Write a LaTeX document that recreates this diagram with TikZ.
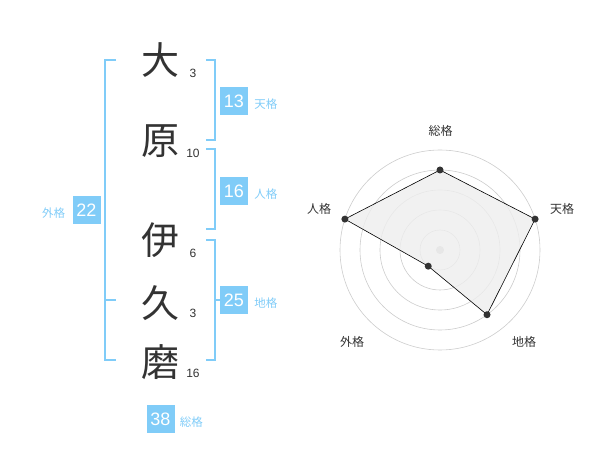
\documentclass[tikz,border=0pt]{standalone}
\usepackage{fontspec}
\usetikzlibrary{calc}
\setmainfont{Liberation Sans}
\newfontfamily\jp{Noto Sans CJK JP}
\definecolor{kblue}{HTML}{80CCF8}
\definecolor{kdark}{HTML}{333333}
\definecolor{kring}{HTML}{CCCCCC}
\definecolor{kfill}{HTML}{EEEEEE}
\tikzset{
  kanji/.style={font=\jp\fontsize{38}{38}\selectfont, text=kdark, inner sep=0pt},
  strokes/.style={font=\fontsize{12}{12}\selectfont, text=kdark, inner sep=0pt},
  bracket/.style={draw=kblue, line width=2pt},
  kakubox/.style={fill=kblue, text=white, minimum size=28pt, inner sep=0pt, font=\fontsize{18}{18}\selectfont},
  kakulabel/.style={text=kblue, font=\jp\fontsize{11.5}{12}\selectfont, inner sep=0pt, anchor=west},
  ring/.style={draw=kring, line width=0.6pt},
  axlabel/.style={text=kdark, font=\jp\fontsize{12}{12}\selectfont, inner sep=0pt},
  dot/.style={circle, fill=kdark, minimum size=7pt, inner sep=0pt},
}
\begin{document}
\begin{tikzpicture}[x=1pt,y=-1pt]
\useasboundingbox (0,0) rectangle (600,470);
% name characters
\node[kanji] (c1) at (160,60) {大};
\node[kanji] (c2) at (160,141) {原};
\node[kanji] (c3) at (160,240) {伊};
\node[kanji] (c4) at (160,303) {久};
\node[kanji] (c5) at (160,362) {磨};
\node[strokes] (s1) at (193,73) {3};
\node[strokes] (s2) at (193,153) {10};
\node[strokes] (s3) at (193,253) {6};
\node[strokes] (s4) at (193,313) {3};
\node[strokes] (s5) at (193,373) {16};
% brackets
\draw[bracket] (116,60) -- (105,60) -- (105,360) -- (116,360);
\draw[bracket] (105,300) -- (116,300);
\draw[bracket] (206,60) -- (215,60) -- (215,140) -- (206,140);
\draw[bracket] (206,149) -- (215,149) -- (215,229) -- (206,229);
\draw[bracket] (206,240) -- (215,240) -- (215,360) -- (206,360);
\draw[bracket] (215,300) -- (222,300);
% boxes
\node[kakubox] (ten) at (234,101) {13};
\node[kakulabel] (tenl) at ([xshift=6pt,yshift=-3pt]ten.east) {天格};
\node[kakubox] (jin) at (234,191) {16};
\node[kakulabel] (jinl) at ([xshift=6pt,yshift=-3pt]jin.east) {人格};
\node[kakubox] (gai) at (86.5,210) {22};
\node[kakulabel, anchor=east] (gail) at ([xshift=-7pt,yshift=-3pt]gai.west) {外格};
\node[kakubox] (chi) at (234,300) {25};
\node[kakulabel] (chil) at ([xshift=6pt,yshift=-3pt]chi.east) {地格};
\node[kakubox] (sou) at (160.5,419) {38};
\node[kakulabel] (soul) at ([xshift=5pt,yshift=-3pt]sou.east) {総格};
% radar
\coordinate (c) at (440,250);
\foreach \r in {20,40,60,80,100} \draw[ring] (c) circle (\r);
\fill[kring] (c) circle (4);
\coordinate (p1) at ($(c)+(-90:80)$);
\coordinate (p2) at ($(c)+(-18:100)$);
\coordinate (p3) at ($(c)+(54:80)$);
\coordinate (p4) at ($(c)+(126:20)$);
\coordinate (p5) at ($(c)+(198:100)$);
\filldraw[fill=kfill, fill opacity=0.8, draw=black, line width=0.6pt] (p1) -- (p2) -- (p3) -- (p4) -- (p5) -- cycle;
\foreach \i in {1,...,5} \node[dot] (d\i) at (p\i) {};
\node[axlabel] (a1) at (440.5,130.5) {総格};
\node[axlabel] (a2) at (562,209) {天格};
\node[axlabel] (a3) at (524,342) {地格};
\node[axlabel] (a4) at (352,342) {外格};
\node[axlabel] (a5) at (319,209) {人格};
\end{tikzpicture}
\end{document}
